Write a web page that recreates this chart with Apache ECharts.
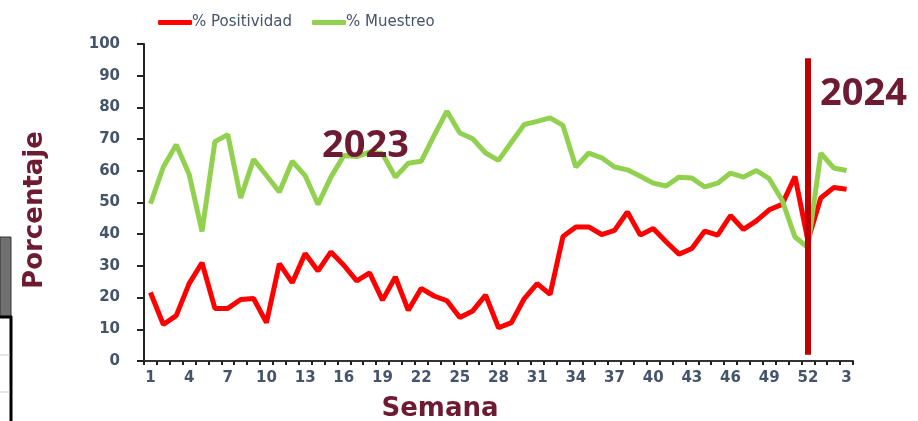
<!DOCTYPE html>
<html>
<head>
<meta charset="utf-8">
<script src="https://cdn.jsdelivr.net/npm/echarts@6/dist/echarts.min.js"></script>
<style>
  html, body { margin: 0; padding: 0; background: #fff; }
  #chart { width: 918px; height: 421px; }
</style>
</head>
<body>
<div id="chart"></div>
<script>
  // semanas epidemiologicas: 2023 (1-52) y 2024 (1-3)
  const semanas = ['1','2','3','4','5','6','7','8','9','10','11','12','13','14','15','16','17','18','19','20',
    '21','22','23','24','25','26','27','28','29','30','31','32','33','34','35','36','37','38','39','40',
    '41','42','43','44','45','46','47','48','49','50','51','52','1','2','3'];

  const positividad = [21.6, 11.5, 14.3, 24.4, 31, 16.6, 16.6, 19.4, 19.7, 12.1,
    30.7, 24.7, 33.9, 28.4, 34.4, 30.2, 25.3, 27.8, 19.2, 26.5,
    16, 22.9, 20.5, 19, 13.7, 15.8, 20.8, 10.5, 12.1, 19.7,
    24.4, 21, 39.3, 42.3, 42.3, 39.9, 41.2, 47, 39.7, 41.8,
    37.6, 33.7, 35.5, 41, 39.7, 45.9, 41.5, 44.2, 47.7, 49.4,
    58.2, 38, 51.4, 54.7, 54.2];

  const muestreo = [49.6, 61.2, 68.2, 58.9, 40.9, 69.2, 71.4, 51.4, 63.6, 58.5,
    53.3, 63, 58.5, 49.4, 58, 64.8, 64.5, 65.9, 65.4, 58,
    62.4, 63, 71.1, 78.8, 71.9, 70.1, 65.6, 63.3, 69, 74.6,
    75.6, 76.7, 74.3, 61.2, 65.6, 64.1, 61.2, 60.3, 58.3, 56.1,
    55.2, 58, 57.7, 54.9, 56.1, 59.3, 58, 60.1, 57.5, 50.7,
    39.1, 35.8, 65.6, 60.9, 60.1];

  // linea de corte entre 2023 y 2024: [semana, valor] arriba y abajo
  const corteInicio = ['52', 95.5];
  const corteFin = ['52', 2];

  const axisColor = '#44546A';
  const titleColor = '#6E1A33';

  const myChart = echarts.init(document.getElementById('chart'));
  myChart.setOption({
    backgroundColor: '#fff',
    animation: false,
    legend: {
      left: 153,
      top: 10,
      icon: 'roundRect',
      itemWidth: 34,
      itemHeight: 5,
      itemGap: 20,
      textStyle: { color: axisColor, fontFamily: 'DejaVu Sans', fontSize: 15, padding: [0, 0, 0, -5] },
      data: ['% Positividad', '% Muestreo']
    },
    grid: { left: 144, right: 65, top: 44, bottom: 60 },
    xAxis: {
      type: 'category',
      data: semanas,
      boundaryGap: true,
      axisLine: { lineStyle: { color: '#333', width: 2 } },
      axisTick: { show: true, interval: 0, length: 4, lineStyle: { color: '#222', width: 2 } },
      axisLabel: {
        interval: 2,
        margin: 10,
        color: axisColor,
        fontFamily: 'DejaVu Sans',
        fontWeight: 'bold',
        fontSize: 15
      },
      splitLine: { show: false }
    },
    yAxis: {
      type: 'value',
      min: 0,
      max: 100,
      interval: 10,
      axisLine: { show: true, lineStyle: { color: '#222', width: 2 } },
      axisTick: { show: true, length: 7, lineStyle: { color: '#222', width: 2 } },
      axisLabel: {
        margin: 24,
        color: axisColor,
        fontFamily: 'DejaVu Sans',
        fontWeight: 'bold',
        fontSize: 15
      },
      splitLine: { show: false }
    },
    series: [
      {
        name: '% Positividad',
        type: 'line',
        data: positividad,
        symbol: 'none',
        lineStyle: { color: '#FF0000', width: 5 },
        itemStyle: { color: '#FF0000' }
      },
      {
        name: '% Muestreo',
        type: 'line',
        data: muestreo,
        symbol: 'none',
        lineStyle: { color: '#92D050', width: 5 },
        itemStyle: { color: '#92D050' },
        markLine: {
          silent: true,
          symbol: 'none',
          label: { show: false },
          lineStyle: { color: '#C00000', width: 6, type: 'solid' },
          data: [[{ coord: corteInicio }, { coord: corteFin }]]
        }
      }
    ],
    graphic: [
      {
        type: 'text', z: 100, left: 322, top: 127,
        style: { text: '2023', fill: titleColor, font: 'bold 38px "Open Sans"' }
      },
      {
        type: 'text', z: 100, left: 820, top: 75,
        style: { text: '2024', fill: titleColor, font: 'bold 38px "Open Sans"' }
      },
      {
        type: 'text', z: 100, x: 440, y: 409,
        style: {
          text: 'Semana', fill: titleColor, font: 'bold 26px "DejaVu Sans"',
          align: 'center', verticalAlign: 'middle'
        }
      },
      {
        type: 'text', z: 100, x: 35, y: 210, rotation: Math.PI / 2,
        style: {
          text: 'Porcentaje', fill: titleColor, font: 'bold 26px "DejaVu Sans"',
          align: 'center', verticalAlign: 'middle',
          shadowColor: 'rgba(0,0,0,0.35)', shadowBlur: 3, shadowOffsetX: 2, shadowOffsetY: 2
        }
      },
      // restos de la diapositiva a la izquierda
      {
        type: 'rect', shape: { x: 0, y: 237, width: 11, height: 80 },
        style: { fill: '#707070', stroke: '#333', lineWidth: 1 }
      },
      { type: 'line', shape: { x1: 0, y1: 317, x2: 12, y2: 317 }, style: { stroke: '#000', lineWidth: 3 } },
      { type: 'line', shape: { x1: 11, y1: 316, x2: 11, y2: 421 }, style: { stroke: '#000', lineWidth: 3 } },
      { type: 'line', shape: { x1: 0, y1: 355, x2: 10, y2: 355 }, style: { stroke: '#ccc', lineWidth: 1 } },
      { type: 'line', shape: { x1: 0, y1: 392, x2: 10, y2: 392 }, style: { stroke: '#ccc', lineWidth: 1 } }
    ]
  });
</script>
</body>
</html>
